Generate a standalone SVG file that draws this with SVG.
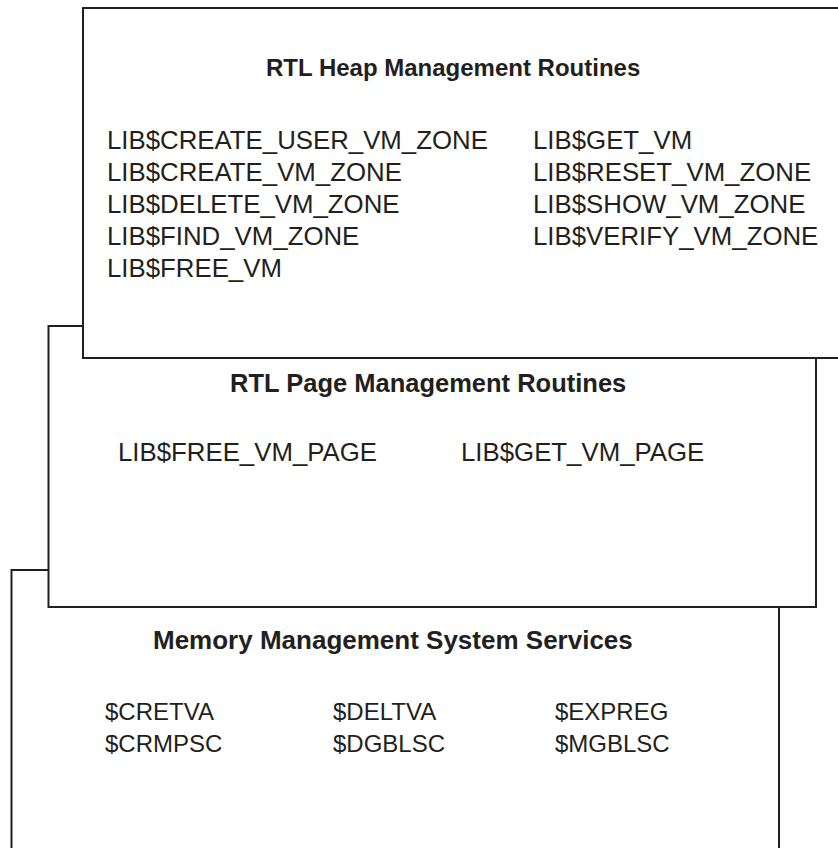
<svg xmlns="http://www.w3.org/2000/svg" width="838" height="848" viewBox="0 0 838 848">
<style>
.box{fill:#fff;stroke:#231f20;stroke-width:2}
.h{font-family:"Liberation Sans",Arial,sans-serif;font-weight:bold;fill:#231f20}
.t{font-family:"Liberation Sans",Arial,sans-serif;font-size:25.8px;fill:#231f20}
.m{font-family:"Liberation Sans",Arial,sans-serif;font-size:24px;fill:#231f20}
</style>
<rect width="838" height="848" fill="#fff"/>
<g id="connectors"></g>
<g id="memory-services">
<rect class="box" x="11.5" y="570" width="767.5" height="300"/>
<text class="h" x="153" y="649" font-size="26">Memory Management System Services</text>
<text class="m" x="105" y="720">$CRETVA</text>
<text class="m" x="105" y="752">$CRMPSC</text>
<text class="m" x="333" y="720">$DELTVA</text>
<text class="m" x="333" y="752">$DGBLSC</text>
<text class="m" x="555" y="720">$EXPREG</text>
<text class="m" x="555" y="752">$MGBLSC</text>
</g>
<g id="page-routines">
<rect class="box" x="48.5" y="326" width="767.5" height="281"/>
<text class="h" x="230" y="392" font-size="25.5">RTL Page Management Routines</text>
<text class="t" x="118" y="461">LIB$FREE_VM_PAGE</text>
<text class="t" x="461" y="461">LIB$GET_VM_PAGE</text>
</g>
<g id="heap-routines">
<rect class="box" x="83" y="8" width="800" height="350"/>
<text class="h" x="266" y="76" font-size="24">RTL Heap Management Routines</text>
<text class="t" x="107" y="149">LIB$CREATE_USER_VM_ZONE</text>
<text class="t" x="107" y="181">LIB$CREATE_VM_ZONE</text>
<text class="t" x="107" y="213">LIB$DELETE_VM_ZONE</text>
<text class="t" x="107" y="245">LIB$FIND_VM_ZONE</text>
<text class="t" x="107" y="277">LIB$FREE_VM</text>
<text class="t" x="533" y="149">LIB$GET_VM</text>
<text class="t" x="533" y="181">LIB$RESET_VM_ZONE</text>
<text class="t" x="533" y="213">LIB$SHOW_VM_ZONE</text>
<text class="t" x="533" y="245">LIB$VERIFY_VM_ZONE</text>
</g>
</svg>
